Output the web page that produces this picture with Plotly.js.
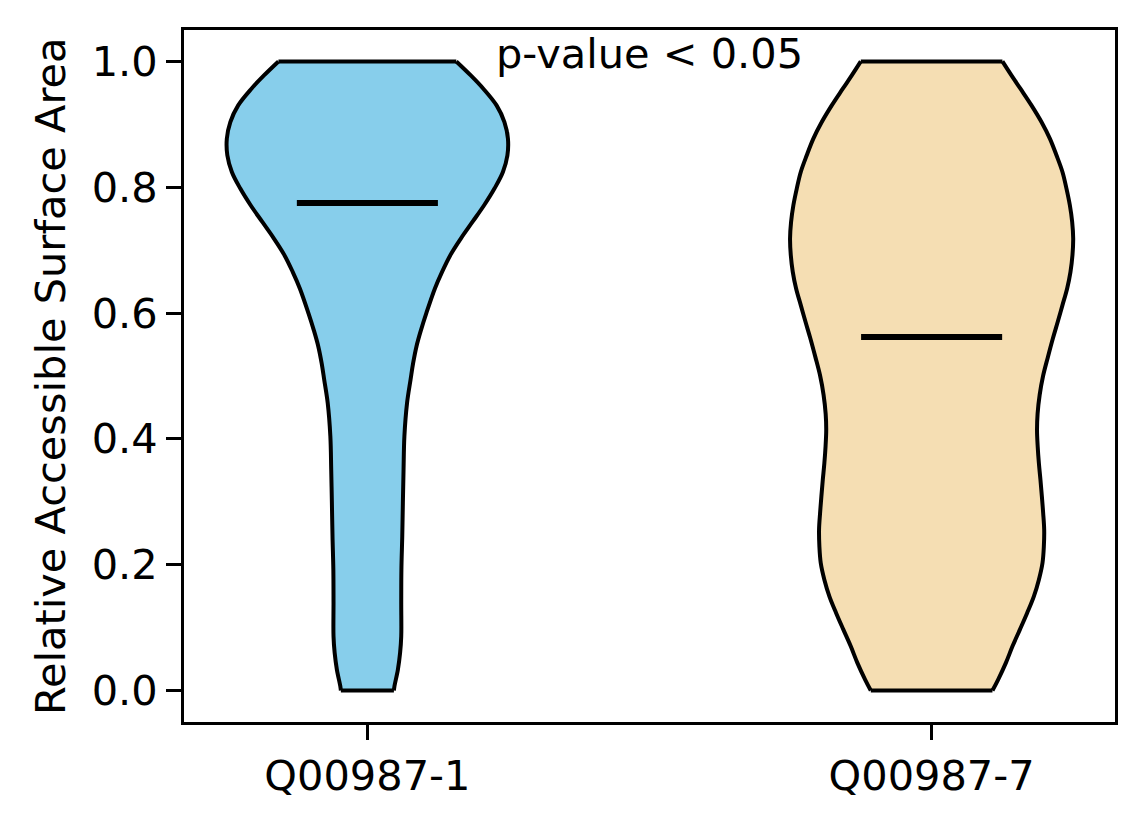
<!DOCTYPE html>
<html>
<head>
<meta charset="utf-8">
<script src="https://cdn.plot.ly/plotly-3.0.1.min.js"></script>
<style>html,body{margin:0;padding:0;background:#fff;}#chart{width:1144px;height:824px;}</style>
</head>
<body>
<div id="chart"></div>
<script>
// Categories and positions
var categories = ["Q00987-1", "Q00987-7"];
var positions = [1, 2];
var fillColors = ["#87CEEB", "#F5DEB3"];

// Violin 1 density outline: y levels and half-widths (x units)
var v1Y = [0.0, 0.007, 0.033, 0.060, 0.086, 0.139, 0.192, 0.245, 0.298, 0.351, 0.404, 0.457, 0.494, 0.520, 0.547, 0.573, 0.600, 0.6392, 0.6656, 0.6921, 0.7185, 0.7449, 0.7714, 0.7979, 0.8243, 0.8508, 0.8773, 0.9037, 0.9302, 0.9567, 0.9778, 1.0];
var v1W = [0.047, 0.048, 0.054, 0.058, 0.060, 0.060, 0.0603, 0.0618, 0.0629, 0.0641, 0.0656, 0.0703, 0.0765, 0.081, 0.087, 0.095, 0.1045, 0.1197, 0.1324, 0.1470, 0.1656, 0.1862, 0.2069, 0.2252, 0.2402, 0.2482, 0.2491, 0.2429, 0.2290, 0.2055, 0.1833, 0.1576];

// Violin 2 density outline
var v2Y = [0.0, 0.0175, 0.0440, 0.0703, 0.0968, 0.1233, 0.1497, 0.1762, 0.2027, 0.2291, 0.2556, 0.2820, 0.3084, 0.3349, 0.3614, 0.3878, 0.4143, 0.44, 0.47, 0.50, 0.53, 0.56, 0.587, 0.6127, 0.6392, 0.6656, 0.6921, 0.7185, 0.7449, 0.7714, 0.7979, 0.8243, 0.8508, 0.8773, 0.9037, 0.9302, 0.9567, 0.9778, 1.0];
var v2W = [0.1078, 0.1179, 0.1316, 0.1433, 0.1564, 0.1693, 0.1812, 0.1901, 0.1965, 0.1989, 0.1995, 0.1977, 0.1954, 0.1929, 0.1901, 0.1880, 0.1868, 0.1878, 0.1915, 0.1975, 0.206, 0.2150, 0.2238, 0.2319, 0.2402, 0.2461, 0.2496, 0.2509, 0.2491, 0.2450, 0.2390, 0.2319, 0.2213, 0.2096, 0.1947, 0.1770, 0.1574, 0.1415, 0.1255];

// Medians
var medians = [0.775, 0.562];

// Y ticks
var yTicks = [0.0, 0.2, 0.4, 0.6, 0.8, 1.0];
var yTickText = ["0.0", "0.2", "0.4", "0.6", "0.8", "1.0"];

var annotationText = "p-value < 0.05";
var yTitle = "Relative Accessible Surface Area";

var shapesData = [[v1Y, v1W], [v2Y, v2W]];
var traces = [];
for (var k = 0; k < 2; k++) {
  var ys = shapesData[k][0], ws = shapesData[k][1], pos = positions[k];
  var lx = [], ly = [], rx = [], ry = [];
  for (var i = 0; i < ys.length; i++) {
    lx.push(pos - ws[i]); ly.push(ys[i]);
    rx.push(pos + ws[i]); ry.push(ys[i]);
  }
  var n = ys.length - 1;
  // filled body (polygon)
  var fx = lx.concat(rx.slice().reverse()), fy = ly.concat(ry.slice().reverse());
  fx.push(lx[0]); fy.push(ly[0]);
  traces.push({type: "scatter", mode: "lines", x: fx, y: fy, fill: "toself", fillcolor: fillColors[k],
    line: {width: 0, color: fillColors[k]}, hoverinfo: "skip", showlegend: false});
  // curved sides
  traces.push({type: "scatter", mode: "lines", x: lx, y: ly,
    line: {color: "black", width: 4, shape: "spline", smoothing: 1}, hoverinfo: "skip", showlegend: false});
  traces.push({type: "scatter", mode: "lines", x: rx, y: ry,
    line: {color: "black", width: 4, shape: "spline", smoothing: 1}, hoverinfo: "skip", showlegend: false});
  // flat ends
  traces.push({type: "scatter", mode: "lines", x: [lx[0], rx[0]], y: [ly[0], ry[0]],
    line: {color: "black", width: 4}, hoverinfo: "skip", showlegend: false});
  traces.push({type: "scatter", mode: "lines", x: [lx[n], rx[n]], y: [ly[n], ry[n]],
    line: {color: "black", width: 4}, hoverinfo: "skip", showlegend: false});
}
for (var m = 0; m < 2; m++) {
  traces.push({
    type: "scatter", mode: "lines",
    x: [positions[m] - 0.125, positions[m] + 0.125],
    y: [medians[m], medians[m]],
    line: {color: "black", width: 6},
    hoverinfo: "skip", showlegend: false
  });
}

var font = {family: "DejaVu Sans, sans-serif", size: 41.5, color: "black"};

var layout = {
  width: 1144, height: 824,
  margin: {l: 184, r: 29, t: 30, b: 102},
  paper_bgcolor: "white", plot_bgcolor: "white",
  font: font,
  showlegend: false,
  xaxis: {
    range: [0.675, 2.325], tickmode: "array", tickvals: positions, ticktext: categories,
    showgrid: false, zeroline: false, showline: true, mirror: true,
    linecolor: "black", linewidth: 3, ticks: "outside", ticklen: 15, tickwidth: 3, tickcolor: "black",
    tickfont: font
  },
  yaxis: {
    range: [-0.05, 1.05], tickmode: "array", tickvals: yTicks, ticktext: yTickText,
    showgrid: false, zeroline: false, showline: true, mirror: true,
    linecolor: "black", linewidth: 3, ticks: "outside", ticklen: 15, tickwidth: 3, tickcolor: "black",
    tickfont: font
  },
  annotations: [
    {text: annotationText, x: 1.5, y: 1.013, xref: "x", yref: "y", xanchor: "center", yanchor: "middle",
     showarrow: false, font: font},
    {text: yTitle, x: -0.1439, y: 0.5, xref: "paper", yref: "paper", xanchor: "center", yanchor: "middle",
     textangle: -90, showarrow: false, font: font}
  ]
};

Plotly.newPlot("chart", traces, layout, {staticPlot: true, displayModeBar: false});
</script>
</body>
</html>
